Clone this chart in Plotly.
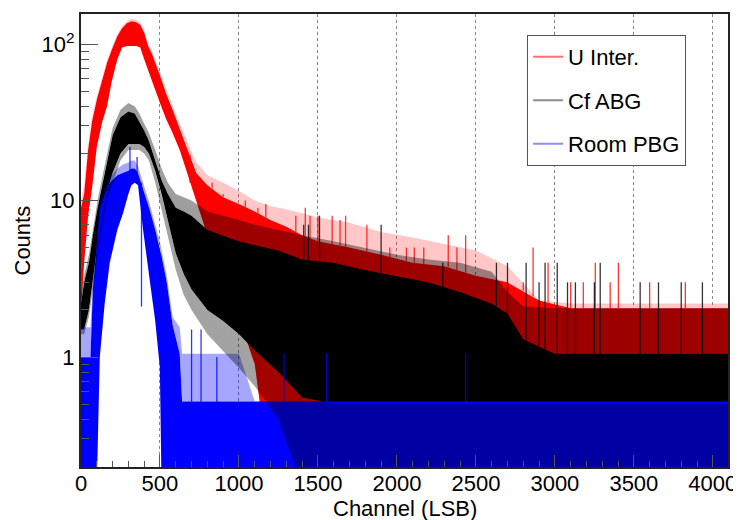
import numpy as np
import plotly.graph_objects as go

# ---------------- data ----------------
# U Inter. (red): envelope of the noisy histogram, per channel node
red_ch = [0, 20, 45, 70, 100, 135, 165, 195, 230, 260, 290, 320, 350, 375, 400, 425, 450, 500, 540, 580,
          625, 670, 730, 800, 900, 1000, 1100, 1200, 1300, 1400, 1500, 1700, 1900, 2100, 2300, 2500, 2700,
          2900, 3100, 3500, 4096]
red_hi = [9, 11, 21, 32, 44, 59, 76, 92, 112, 126, 136, 140, 138, 133, 118, 97, 86, 63, 48, 38,
          29, 22, 15, 12.5, 10.5, 9.5, 8.5, 7.5, 6.8, 6, 5.5, 5, 4.5, 4, 3.8, 3.3, 3,
          2.3, 2.05, 2.05, 2.05]
red_lo = [2, 4, 8, 12, 22, 32, 40, 58, 80, 95, 97, 97, 97, 95, 80, 68, 57, 42, 33, 27,
          21, 15, 10, 6, 3.5, 1.8, 0.9, 0.15, 0.15, 0.15, 0.15, 0.15, 0.15, 0.15, 0.15, 0.15, 0.15,
          0.15, 0.15, 0.15, 0.15]
red_sp = [10, 12.5, 22.5, 34, 46, 61, 79, 95, 116, 130, 140, 145, 143, 138, 122, 101, 90, 66, 51, 40,
          31, 24, 17.5, 14.5, 13, 11.5, 10, 9.2, 8.8, 8.3, 7.8, 7.2, 6.3, 5.8, 5.3, 4.8, 3.8,
          2.3, 2.2, 2.2, 2.2]
red_spk_ch = [690, 760, 830, 900, 1040, 1120, 1170, 1360, 1420, 1450, 1500, 1590, 1640, 1675, 1810, 1955,
              2060, 2110, 2170, 2325, 2380, 2435, 2800, 2862, 2957, 3100, 3180, 3256, 3350, 3402, 3600, 3826]
red_spk_hi = [13, 12, 13, 11, 10, 9, 9.5, 8, 9, 8, 8, 8, 7.5, 8, 7, 5,
              5, 5, 5, 6, 5, 6, 3, 5, 4, 3, 3, 4, 3, 4, 3, 3]

# Cf ABG (black)
blk_ch = [0, 20, 50, 75, 105, 140, 170, 200, 250, 300, 340, 370, 400, 430, 470, 510, 550, 600, 650, 700,
          800, 900, 1000, 1100, 1250, 1400, 1600, 1800, 2000, 2200, 2400, 2600, 2700, 2800, 3000, 4096]
blk_hi = [2.2, 3, 4, 6, 9, 13.5, 19, 26, 34, 37, 36, 32, 28, 24, 18, 13.5, 11, 9, 8.5, 8,
          6.5, 6, 5.5, 5.2, 4.8, 4.2, 4, 3.6, 3.3, 3, 2.6, 2.2, 1.9, 1.3, 1.05, 1.05]
blk_sp = [2.5, 3.3, 4.5, 6.5, 10, 15, 21, 29, 38, 42, 40, 36, 31, 27, 21, 16, 13, 11, 10.5, 10,
          8.5, 8, 7.5, 7, 6.5, 6, 5.5, 5, 4.5, 4.2, 4, 3.5, 2.6, 2.1, 2.05, 2.05]
blk_lo = [1.5, 1.5, 2, 3.1, 5.3, 8.7, 12, 15, 20, 23, 23, 23, 22, 20, 15.5, 11, 7.5, 4.6, 3.4, 2.7,
          2, 1.7, 1.4, 1.1, 0.8, 0.55, 0.5, 0.5, 0.5, 0.5, 0.5, 0.5, 0.5, 0.5, 0.5, 0.5]
blk_lo_sp = [1.4, 1.4, 1.8, 2.7, 4.5, 7.5, 10.5, 13, 18, 21, 21, 21, 20, 18, 13, 9, 6, 3.6, 2.5, 2.0,
             1.4, 1.1, 0.85, 0.65, 0.4, 0.15, 0.15, 0.15, 0.15, 0.15, 0.15, 0.15, 0.15, 0.15, 0.15, 0.15]
blk_spk_ch = [1410, 1440, 1510, 1900, 2290, 2630, 2700, 2818, 2900, 2938, 3015, 3080, 3130, 3250, 3287,
              3540, 3656, 3800, 3934]
blk_spk_hi = [7, 7, 8, 7, 4, 4, 4, 4, 3, 4, 4, 3, 3, 3, 4, 3, 3, 3, 3]

# Room PBG (blue)
blue_ch = [0, 60, 75, 90, 100, 119, 150, 182, 230, 266, 300, 319, 340, 361, 393, 435, 470, 499, 510, 543,
           580, 625, 640, 1000, 1100, 4096]
blue_hi = [1.0, 1.0, 2.7, 4.0, 5, 8.7, 11, 13, 14.5, 15, 15.5, 16, 16, 15, 12, 8.7, 6.5, 5, 4.4, 3,
           1.6, 1.05, 0.52, 0.52, 0.52, 0.52]
blue_lo = [0.15, 0.15, 0.15, 0.15, 0.15, 1.0, 2.2, 4, 6.5, 8.3, 11, 12.5, 13, 12.5, 6.5, 3.1, 1.7, 0.86, 0.15, 0.15,
           0.15, 0.15, 0.15, 0.15, 0.15, 0.15]
blue_sp = [1.55, 1.55, 3, 4.5, 5.5, 9.5, 12, 14, 16, 17, 17.5, 18, 18, 16.5, 13, 9.5, 7, 5.5, 4.8, 3.3,
           1.8, 1.55, 1.05, 1.05, 0.52, 0.52]
blue_spk_ch = [310, 355, 383, 700, 760, 860, 1285, 1555, 2435]
blue_spk_lo = [14, 14, 2.1, 0.5, 0.5, 0.5, 0.5, 0.5, 0.5]
blue_spk_hi = [22, 19, 13, 1.5, 1.5, 1.0, 1.05, 1.05, 1.05]

x_ticks = [0, 500, 1000, 1500, 2000, 2500, 3000, 3500, 4000]
y_ticks = [1, 10, 100]
y_ticktext = ["1", "10", "10<sup>2</sup>"]
series_names = ["U Inter.", "Cf ABG", "Room PBG"]

# ---------------- figure ----------------
FONT = "Liberation Sans, Arial, Helvetica, sans-serif"
fig = go.Figure()


def band(ch, lo, hi, color):
    xs = list(ch) + list(ch)[::-1]
    ys = list(hi) + list(lo)[::-1]
    fig.add_trace(go.Scatter(x=xs, y=ys, fill="toself", fillcolor=color, mode="lines",
                             line=dict(width=0, color=color), hoverinfo="skip", showlegend=False))


def spikes(ch, lo, hi, color, width=1.3):
    xs, ys = [], []
    for c, a, b in zip(ch, lo, hi):
        xs += [c, c, None]
        ys += [a, b, None]
    fig.add_trace(go.Scatter(x=xs, y=ys, mode="lines", line=dict(width=width, color=color),
                             hoverinfo="skip", showlegend=False))


# red
band(red_ch, red_hi, red_sp, "rgba(255,0,0,0.22)")
spikes(red_spk_ch, np.interp(red_spk_ch, red_ch, red_hi), red_spk_hi, "rgba(255,0,0,0.8)")
band(red_ch, red_lo, red_hi, "rgb(255,0,0)")
# black
band(blk_ch, blk_hi, blk_sp, "rgba(0,0,0,0.38)")
spikes(blk_spk_ch, np.interp(blk_spk_ch, blk_ch, blk_hi), blk_spk_hi, "rgba(0,0,0,0.8)")
band(blk_ch, blk_lo, blk_hi, "rgb(0,0,0)")
# blue
band(blue_ch, blue_hi, blue_sp, "rgba(0,0,255,0.35)")
spikes(blue_spk_ch, blue_spk_lo, blue_spk_hi, "rgba(0,0,255,0.8)")
band(blue_ch, blue_lo, blue_hi, "rgb(0,0,255)")
# black strokes reaching into the low region
band(blk_ch, blk_lo_sp, blk_lo, "rgba(0,0,0,0.36)")

# legend entries
for name, col in zip(series_names, ["rgba(255,0,0,0.55)", "rgba(0,0,0,0.45)", "rgba(0,0,255,0.45)"]):
    fig.add_trace(go.Scatter(x=[None], y=[None], mode="lines", name=name,
                             line=dict(color=col, width=2), legendgroup=name))

# the page body adds an 8 px offset, so the figure is 8 px smaller than the window
fig.update_layout(
    width=733, height=512,
    margin=dict(l=73, r=13, t=6, b=53, autoexpand=False),
    paper_bgcolor="white", plot_bgcolor="white",
    font=dict(family=FONT, size=22, color="black"),
    showlegend=True,
    legend=dict(x=0.6895, y=0.954, xanchor="left", yanchor="top",
                bgcolor="white", bordercolor="#555", borderwidth=1,
                font=dict(family=FONT, size=22, color="black"),
                tracegroupgap=12),
    annotations=[
        dict(text="Channel (LSB)", xref="paper", yref="paper", x=0.5, y=0,
             xanchor="center", yanchor="middle", yshift=-41, showarrow=False,
             font=dict(family=FONT, size=22, color="black")),
        dict(text="Counts", xref="paper", yref="paper", x=0, y=0.5, textangle=-90,
             xanchor="center", yanchor="middle", xshift=-59, showarrow=False,
             font=dict(family=FONT, size=22, color="black")),
    ],
)
fig.update_xaxes(
    range=[0, 4096], tickvals=x_ticks, ticks="inside", ticklen=12, tickcolor="#555",
    showline=True, linecolor="#222", linewidth=2, mirror=True, automargin=False,
    showgrid=True, gridcolor="#888", griddash="dot", gridwidth=1, zeroline=False,
    minor=dict(ticks="inside", ticklen=6, dtick=100, tickcolor="#555", showgrid=False),
    tickfont=dict(size=22, family=FONT), ticklabelstandoff=-4,
)
fig.update_yaxes(
    type="log", range=[-0.703, 2.192], tickvals=y_ticks, ticktext=y_ticktext,
    ticks="inside", ticklen=17, tickcolor="#555",
    showline=True, linecolor="#222", linewidth=2, mirror=True, automargin=False,
    showgrid=False, zeroline=False,
    minor=dict(ticks="inside", ticklen=8, dtick="D1", tickcolor="#555", showgrid=False),
    tickfont=dict(size=22, family=FONT),
)

fig.write_html("out.html")
